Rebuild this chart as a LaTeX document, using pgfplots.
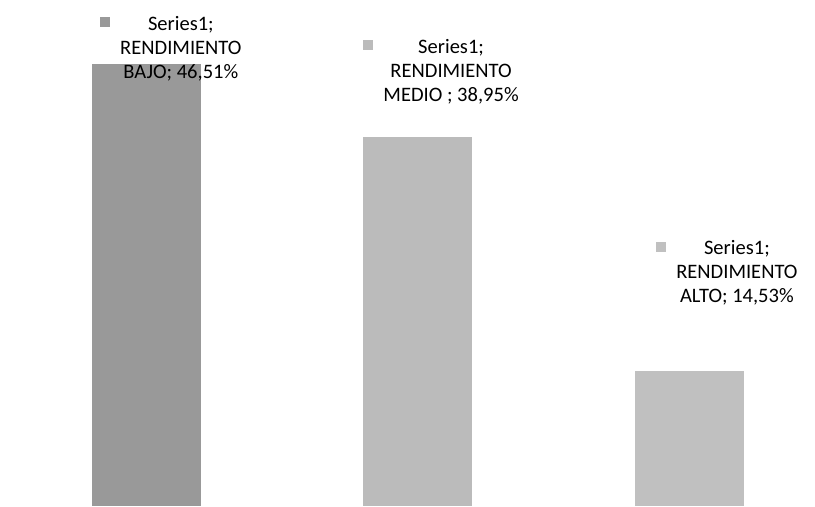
\documentclass[border=0pt]{standalone}
\usepackage{pgfplots}
\pgfplotsset{compat=1.18}
\usepackage{fontspec}
\setmainfont{Carlito}

\definecolor{barA}{HTML}{999999}
\definecolor{barB}{HTML}{BBBBBB}
\definecolor{barC}{HTML}{C0C0C0}

% label: colour key + three centred lines
\newcommand{\lab}[3]{%
  \begin{tabular}[t]{@{}l@{\hspace{7.5pt}}c@{}}
    \raisebox{2.3pt}{\textcolor{#1}{\rule{7.5pt}{7.5pt}}} & Series1;\\
    & RENDIMIENTO\\
    & #2; #3
  \end{tabular}}

\begin{document}
\begin{tikzpicture}
\begin{axis}[
    scale only axis,
    width=611.25pt, height=379.5pt,
    hide axis,
    xmin=-0.540, xmax=2.4645,
    ymin=0.5, ymax=53.21,
    ybar, bar width=81.75pt, bar shift=0pt,
    nodes near coords,
    every node near coord/.append style={
        font=\fontsize{15.4}{18}\selectfont, text=black,
        anchor=base west, inner sep=0pt},
    ]
\addplot[fill=barA, draw=none,
    nodes near coords={\lab{barA}{BAJO}{46,51\%}},
    every node near coord/.append style={xshift=-34.9pt, yshift=25.5pt}]
    coordinates {(0,46.51)};
\addplot[fill=barB, draw=none,
    nodes near coords={\lab{barB}{MEDIO }{38,95\%}},
    every node near coord/.append style={xshift=-40.9pt, yshift=62.6pt}]
    coordinates {(1,38.95)};
\addplot[fill=barC, draw=none,
    nodes near coords={\lab{barC}{ALTO}{14,53\%}},
    every node near coord/.append style={xshift=-24.75pt, yshift=87.3pt}]
    coordinates {(2,14.53)};
\end{axis}
\path (current axis.south west) (current axis.north east);
\end{tikzpicture}
\end{document}
